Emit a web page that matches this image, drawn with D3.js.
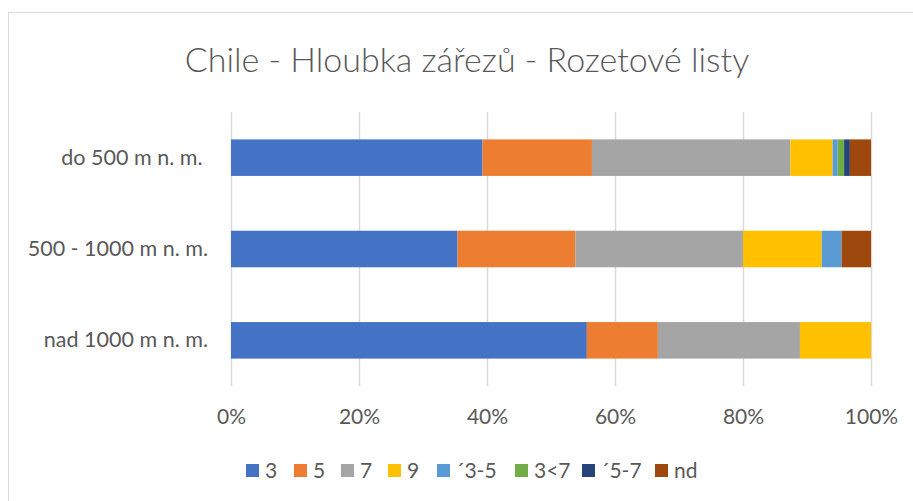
<!DOCTYPE html>
<html>
<head>
<meta charset="utf-8">
<script src="https://cdn.jsdelivr.net/npm/d3@7"></script>
<style>
  body { margin: 0; background: #fff; }
  text { font-family: Lato, "Open Sans", sans-serif; fill: #595959; white-space: pre; }
</style>
</head>
<body>
<div id="chart-area"></div>
<script>
// categories (top to bottom)
var categories = ['do 500 m n. m. ', '500 - 1000 m n. m.', 'nad 1000 m n. m.']
var seriesNames = ['3', '5', '7', '9', '´3-5', '3<7', '´5-7', 'nd']
var seriesColors = ['#4472C4', '#ED7D31', '#A5A5A5', '#FFC000', '#5B9BD5', '#70AD47', '#264478', '#9E480E']

// shares per series, one value per category (percent)
var s3 = [39.3, 35.4, 55.6]
var s5 = [17.1, 18.4, 11.1]
var s7 = [31.0, 26.2, 22.2]
var s9 = [6.6, 12.3, 11.1]
var s35 = [0.8, 3.1, 0]
var s3lt7 = [1.0, 0, 0]
var s57 = [0.9, 0, 0]
var snd = [3.3, 4.6, 0]

var tickValues = [0, 0.2, 0.4, 0.6, 0.8, 1]

var seriesValues = [s3, s5, s7, s9, s35, s3lt7, s57, snd]

var W = 913, H = 501
var margin = { left: 231, right: 42, top: 112, bottom: 115 }
var width = W - margin.left - margin.right
var height = H - margin.top - margin.bottom

var svg = d3.select('#chart-area')
    .append('svg')
        .attr('width', W)
        .attr('height', H)

// chart border
svg.append('rect')
    .attr('x', 8.5)
    .attr('y', 12.5)
    .attr('width', W)
    .attr('height', H)
    .attr('fill', 'none')
    .attr('stroke', '#D9D9D9')

// title
svg.append('text')
    .attr('x', 467)
    .attr('y', 72)
    .attr('text-anchor', 'middle')
    .attr('font-size', '34px')
    .attr('font-weight', 300)
    .text('Chile - Hloubka zářezů - Rozetové listy')

var g = svg.append('g')
    .attr('transform', `translate(${margin.left}, ${margin.top})`)

// table for stacking
var table = categories.map(function (c, i) {
    var row = { cat: c }
    seriesNames.forEach(function (s, j) {
        row[s] = seriesValues[j][i] / 100
    })
    return row
})

var stack = d3.stack().keys(seriesNames)
var layers = stack(table)

var x = d3.scaleLinear()
    .domain([0, 1])
    .range([0, width])

var y = d3.scaleBand()
    .domain(categories)
    .range([0, height])
    .paddingInner(0.6)
    .paddingOuter(0.3)

// gridlines
g.append('g')
    .attr('class', 'grid')
    .selectAll('line')
    .data(tickValues)
    .enter()
    .append('line')
        .attr('x1', d => Math.round(x(d)) + 0.5)
        .attr('x2', d => Math.round(x(d)) + 0.5)
        .attr('y1', 0)
        .attr('y2', height)
        .attr('stroke', '#D9D9D9')
        .attr('stroke-width', 1.5)

// bars
g.selectAll('g.layer')
    .data(layers)
    .enter()
    .append('g')
        .attr('class', 'layer')
        .attr('fill', (d, i) => seriesColors[i])
    .selectAll('rect')
    .data(d => d.map(v => ({ v: v, cat: v.data.cat })))
    .enter()
    .append('rect')
        .attr('x', d => x(d.v[0]))
        .attr('y', d => y(d.cat))
        .attr('width', d => Math.max(0, x(d.v[1]) - x(d.v[0])))
        .attr('height', y.bandwidth())

// x axis
var xAxisCall = d3.axisBottom(x)
    .tickValues(tickValues)
    .tickFormat(d3.format('.0%'))
    .tickSize(0)
    .tickPadding(23)
var xAxisGroup = g.append('g')
    .attr('transform', `translate(0, ${height})`)
    .call(xAxisCall)
xAxisGroup.select('.domain').remove()
xAxisGroup.selectAll('text')
    .attr('font-size', '21px')
    .attr('font-family', null)
    .attr('fill', '#595959')

// y axis
var yAxisCall = d3.axisLeft(y)
    .tickSize(0)
    .tickPadding(23)
var yAxisGroup = g.append('g')
    .call(yAxisCall)
yAxisGroup.select('.domain').remove()
yAxisGroup.selectAll('text')
    .attr('font-size', '21.5px')
    .attr('font-family', null)
    .attr('fill', '#595959')

// legend
var legendX = [246, 294, 341, 388, 437, 515, 582, 655]
var legend = svg.append('g')
    .selectAll('g')
    .data(seriesNames)
    .enter()
    .append('g')
        .attr('transform', (d, i) => `translate(${legendX[i]}, 464)`)
legend.append('rect')
    .attr('width', 13)
    .attr('height', 13)
    .attr('fill', (d, i) => seriesColors[i])
legend.append('text')
    .attr('x', 19)
    .attr('y', 14)
    .attr('font-size', '21px')
    .text(d => d)
</script>
</body>
</html>
